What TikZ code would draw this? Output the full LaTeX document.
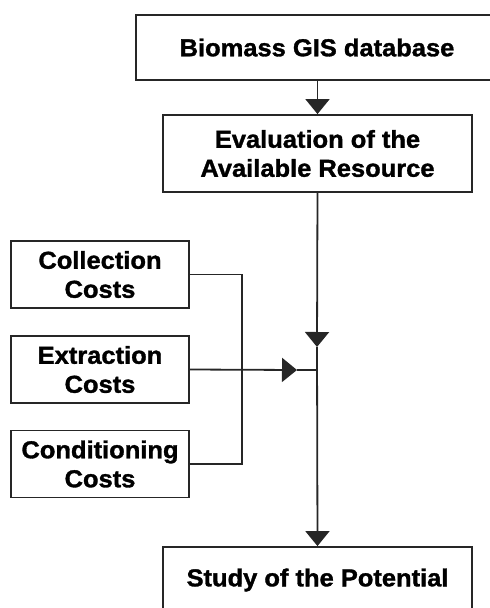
\documentclass[tikz,border=0pt]{standalone}
\usepackage{fontspec}
\setmainfont{Liberation Sans}[FakeStretch=1.04, BoldFeatures={FakeBold=1.3}]
\usetikzlibrary{arrows.meta}
\begin{document}
\begin{tikzpicture}[x=1pt,y=-1pt,
  box/.style={draw=black!85, line width=1.8pt, fill=white, align=center,
    font=\bfseries\fontsize{24.5}{29}\selectfont, inner sep=0pt},
  wire/.style={draw=black!85, line width=1.8pt},
  tip/.style={wire, -{Triangle[length=15pt,width=24pt]}}]
\useasboundingbox (0,0) rectangle (490,608);

% main column
\node[box, minimum width=362, minimum height=65] (gis) at (317,47.5) {Biomass GIS database};
\node[box, minimum width=309, minimum height=77] (eval) at (317.5,153.5) {Evaluation of the\\Available Resource};
\node[box, minimum width=309, minimum height=66] (study) at (317.5,580) {Study of the Potential};

% cost inputs
\node[box, minimum width=178, minimum height=67] (coll) at (100,274.5) {Collection\\Costs};
\node[box, minimum width=178, minimum height=67] (extr) at (100,369.5) {Extraction\\Costs};
\node[box, minimum width=178, minimum height=67] (cond) at (100,464) {Conditioning\\Costs};

% junction points
\coordinate (mid) at (317,347);
\coordinate (junc) at (317,370);
\coordinate (hin) at (297,370);
\coordinate (bus) at (242,370);

% connectors
\draw[tip] (gis.south -| eval.north) -- (eval.north);
\draw[tip] (eval.south) -- (mid);
\draw[tip] (mid) -- (study.north);
\draw[tip] (extr.east) -- (hin);
\draw[wire] (hin) -- (junc);
\draw[wire] (coll.east) -| (bus) |- (cond.east);
\end{tikzpicture}
\end{document}
